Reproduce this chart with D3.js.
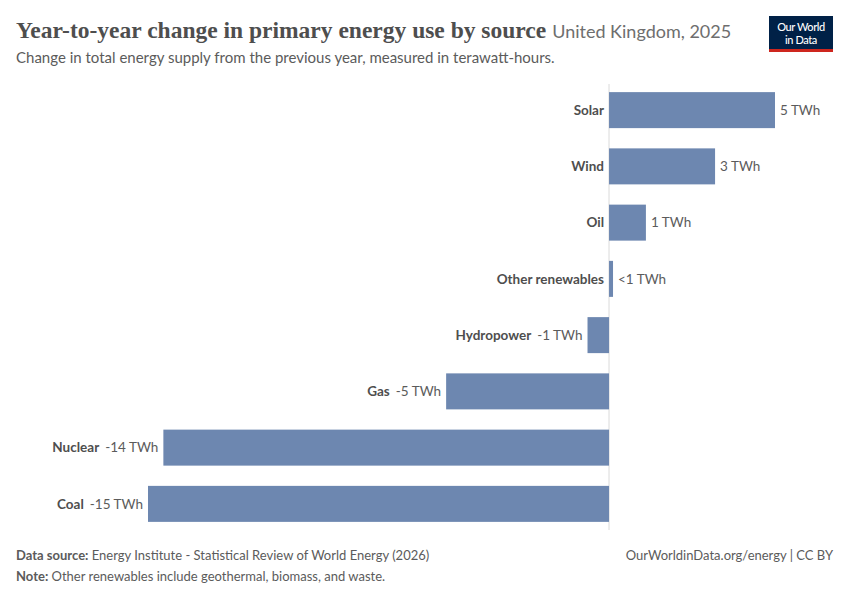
<!DOCTYPE html>
<html>
<head>
<meta charset="utf-8">
<script src="https://cdn.jsdelivr.net/npm/d3@7"></script>
<style>
    body { margin: 0; background: #fff; }
    svg { font-family: Lato, "Noto Sans", sans-serif; }
</style>
</head>
<body>
<script>
// 数据
const categories = ['Solar', 'Wind', 'Oil', 'Other renewables', 'Hydropower', 'Gas', 'Nuclear', 'Coal'];
const values = [5.4, 3.45, 1.2, 0.13, -0.7, -5.3, -14.5, -15.0];
const unit = 'TWh';

// svg区域大小
const width = 850;
const height = 600;
const plot = {
    top: 82,
    bottom: 532,
    left: 148,
    right: 775
};

const barColor = '#6d87b0';
const textColor = '#5b5b5b';

const svg = d3.select('body')
    .append('svg')
    .attr('width', width)
    .attr('height', height);

// 比例尺
const x = d3.scaleLinear()
    .domain([d3.min(values), d3.max(values)])
    .range([plot.left, plot.right]);

const y = d3.scaleBand()
    .domain(categories)
    .range([plot.top, plot.bottom])
    .paddingInner(0.36)
    .paddingOuter(0.18);

const rows = categories.map((c, i) => ({name: c, value: values[i]}));

function fmt(v) {
    const r = Math.round(v);
    if (r === 0) {
        return '<1 ' + unit;
    }
    return r + ' ' + unit;
}

// 标题
const header = svg.append('text')
    .attr('x', 16)
    .attr('y', 38);
header.append('tspan')
    .attr('font-family', '"Liberation Serif", "DejaVu Serif", serif')
    .attr('font-size', 23.5)
    .attr('font-weight', 'bold')
    .attr('fill', '#4e4e4e')
    .text('Year-to-year change in primary energy use by source');
header.append('tspan')
    .attr('dx', 6)
    .attr('font-size', 18)
    .attr('fill', '#6e6e6e')
    .text('United Kingdom, 2025');

svg.append('text')
    .attr('x', 16)
    .attr('y', 63)
    .attr('font-size', 15)
    .attr('fill', textColor)
    .text('Change in total energy supply from the previous year, measured in terawatt-hours.');

// logo
const logo = svg.append('g').attr('transform', 'translate(769,16)');
logo.append('rect').attr('width', 64).attr('height', 36).attr('fill', '#002147');
logo.append('rect').attr('y', 33).attr('width', 64).attr('height', 3).attr('fill', '#ce261e');
logo.selectAll('text')
    .data(['Our World', 'in Data'])
    .enter()
    .append('text')
    .attr('x', 32)
    .attr('y', (d, i) => 14.5 + i * 13)
    .attr('text-anchor', 'middle')
    .attr('font-size', 11)
    .attr('font-weight', 500)
    .attr('fill', '#fff')
    .attr('letter-spacing', -0.4)
    .text(d => d);

// 零轴线
svg.append('line')
    .attr('x1', x(0)).attr('x2', x(0))
    .attr('y1', plot.top + 2).attr('y2', plot.bottom - 2)
    .attr('stroke', '#dadada')
    .attr('stroke-width', 1);

// 画矩形
svg.selectAll('rect.bar')
    .data(rows)
    .enter()
    .append('rect')
    .attr('class', 'bar')
    .attr('fill', barColor)
    .attr('x', d => Math.min(x(0), x(d.value)))
    .attr('y', d => y(d.name))
    .attr('width', d => Math.abs(x(d.value) - x(0)))
    .attr('height', y.bandwidth());

// 数值文字
const valueText = svg.selectAll('text.value')
    .data(rows)
    .enter()
    .append('text')
    .attr('class', 'value')
    .attr('font-size', 13.5)
    .attr('fill', textColor)
    .attr('dy', '0.35em')
    .attr('y', d => y(d.name) + y.bandwidth() / 2)
    .attr('x', d => d.value >= 0 ? x(d.value) + 5 : x(d.value) - 5)
    .attr('text-anchor', d => d.value >= 0 ? 'start' : 'end')
    .text(d => fmt(d.value));

// 类别文字
svg.selectAll('text.label')
    .data(rows)
    .enter()
    .append('text')
    .attr('class', 'label')
    .attr('font-size', 13.5)
    .attr('font-weight', 'bold')
    .attr('fill', '#4e4e4e')
    .attr('text-anchor', 'end')
    .attr('dy', '0.35em')
    .attr('y', d => y(d.name) + y.bandwidth() / 2)
    .attr('x', (d, i) => {
        if (d.value >= 0) {
            return x(0) - 5;
        }
        const w = valueText.nodes()[i].getComputedTextLength();
        return x(d.value) - 5 - w - 6;
    })
    .text(d => d.name);

// 页脚
const src = svg.append('text')
    .attr('x', 16).attr('y', 560)
    .attr('font-size', 13)
    .attr('fill', textColor);
src.append('tspan').attr('font-weight', 'bold').text('Data source:');
src.append('tspan').text(' Energy Institute - Statistical Review of World Energy (2026)');

const note = svg.append('text')
    .attr('x', 16).attr('y', 581)
    .attr('font-size', 13)
    .attr('fill', textColor);
note.append('tspan').attr('font-weight', 'bold').text('Note:');
note.append('tspan').text(' Other renewables include geothermal, biomass, and waste.');

svg.append('text')
    .attr('x', 833).attr('y', 560)
    .attr('text-anchor', 'end')
    .attr('font-size', 13)
    .attr('fill', textColor)
    .text('OurWorldinData.org/energy | CC BY');
</script>
</body>
</html>
